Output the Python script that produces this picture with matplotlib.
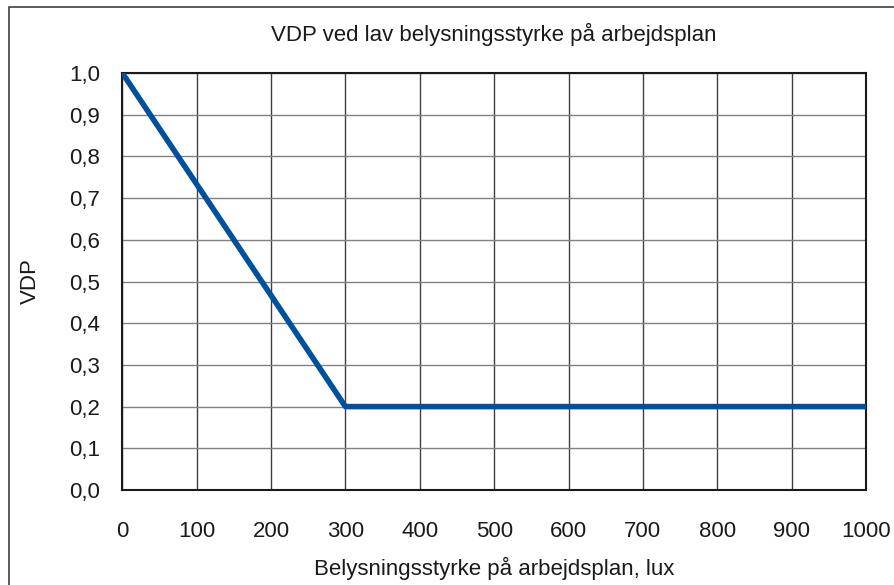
import matplotlib.pyplot as plt
from matplotlib.patches import Rectangle

# VDP as a function of illuminance on the work plane
lux = [0, 300, 1000]
vdp = [1.0, 0.2, 0.2]

x_ticks = [0, 100, 200, 300, 400, 500, 600, 700, 800, 900, 1000]
y_ticks = [0.0, 0.1, 0.2, 0.3, 0.4, 0.5, 0.6, 0.7, 0.8, 0.9, 1.0]
y_labels = ["0,0", "0,1", "0,2", "0,3", "0,4", "0,5", "0,6", "0,7", "0,8", "0,9", "1,0"]

plt.rcParams['font.family'] = ['Liberation Sans', 'DejaVu Sans']

fig = plt.figure(figsize=(8.94, 5.85), dpi=100)
ax = fig.add_axes([0.1368, 0.1624, 0.8319, 0.7128])

# frame around the whole chart (right/bottom edges fall outside the image)
fig.patches.append(Rectangle((9 / 894, -0.1), 1.2, 1 - 7 / 585 + 0.1,
                             transform=fig.transFigure, fill=False,
                             edgecolor='#404040', linewidth=1.2))

ax.plot(lux, vdp, color='#0050A0', linewidth=4, solid_capstyle='butt', zorder=3)

ax.set_xlim(0, 1000)
ax.set_ylim(0, 1.0)
ax.set_xticks(x_ticks)
ax.set_xticklabels([str(v) for v in x_ticks])
ax.set_yticks(y_ticks)
ax.set_yticklabels(y_labels)
ax.tick_params(axis='both', length=0, labelsize=16, colors='#1a1a1a')
ax.tick_params(axis='x', pad=22)
ax.tick_params(axis='y', pad=16)

ax.xaxis.grid(True, color='#404040', linewidth=1)
ax.yaxis.grid(True, color='#808080', linewidth=1)
ax.set_axisbelow(True)
for s in ax.spines.values():
    s.set_color('#1a1a1a')
    s.set_linewidth(1.5)

fig.text(494 / 894, 1 - 34 / 585, "VDP ved lav belysningsstyrke på arbejdsplan",
         ha='center', va='center', fontsize=16, color='#1a1a1a')
fig.text(494 / 894, 1 - 568 / 585, "Belysningsstyrke på arbejdsplan, lux",
         ha='center', va='center', fontsize=16, color='#1a1a1a')
fig.text(30 / 894, 0.5 * (2 - 73 / 585 - 490 / 585), "VDP",
         ha='center', va='center', rotation=90, fontsize=16, color='#1a1a1a')

fig.savefig("out.png", dpi=100)
